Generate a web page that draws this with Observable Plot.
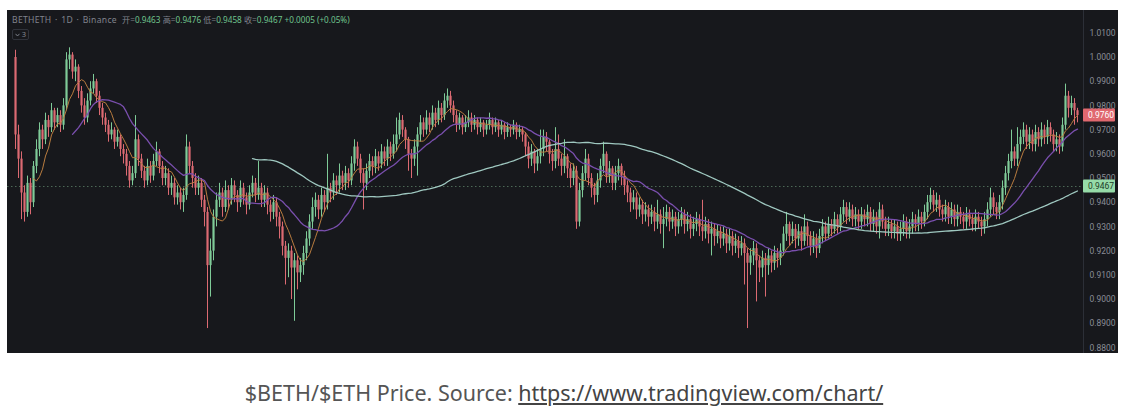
<!DOCTYPE html>
<html><head><meta charset="utf-8">
<script src="https://cdn.jsdelivr.net/npm/d3@7"></script>
<script src="https://cdn.jsdelivr.net/npm/@observablehq/plot@0.6"></script>
<style>
body{margin:0;background:#fff;width:1128px;height:414px;position:relative;overflow:hidden;font-family:"Noto Sans",sans-serif}
#panel{position:absolute;left:7px;top:10px;width:1111px;height:343px;background:#17181c;overflow:hidden}
#panel svg{position:absolute;left:0;top:0}
#hdr{position:absolute;left:5px;top:4px;font-size:8.2px;line-height:12px;color:#80838c;white-space:nowrap;font-family:"Noto Sans","Noto Sans CJK SC",sans-serif;z-index:2}
#hdr .v{color:#6fc38c}
#hdr .sym{font-size:8.6px;letter-spacing:0.3px;word-spacing:1px}
#hdr .s{margin-left:5px}
#ind{position:absolute;left:5px;top:19px;width:17px;height:11px;border:1px solid #30333b;border-radius:2px;font-size:7.5px;line-height:11px;color:#868993;z-index:2;box-sizing:border-box;display:flex;align-items:center;justify-content:center;gap:2px}
#cap{position:absolute;top:379px;left:0;width:1128px;text-align:center;font-size:21.5px;line-height:28px;color:#555}
#cap a{color:#444;text-decoration:underline}
</style></head>
<body>
<div id="panel">
  <div id="hdr"><span class="sym">BETHETH · 1D · Binance</span><span class="s">开=<span class="v">0.9463</span></span> <span>高=<span class="v">0.9476</span></span> <span>低=<span class="v">0.9458</span></span> <span>收=<span class="v">0.9467</span></span> <span class="v">+0.0005 (+0.05%)</span></div>
  <div id="ind"><svg width="5" height="4" viewBox="0 0 5 4" style="position:static"><path d="M0.5 0.8 L2.5 3 L4.5 0.8" fill="none" stroke="#868993" stroke-width="0.9"/></svg><span>3</span></div>
</div>
<div id="cap">$BETH/$ETH Price. Source: <a>https://www.tradingview.com/chart/</a></div>
<script>
// ---- data (daily candles) ----
const firstOpen = 1.000;
const close = [
.968,.958,.944,.936,.948,.940,.955,.962,.970,.966,
.974,.971,.978,.973,.976,.972,.980,.999,1.001,.994,
.996,.986,.980,.975,.982,.987,.990,.984,.979,.975,
.972,.968,.970,.965,.967,.962,.960,.955,.949,.952,
.966,.958,.953,.949,.955,.951,.957,.961,.955,.950,
.952,.946,.948,.942,.944,.940,.943,.963,.955,.950,
.946,.948,.941,.936,.914,.920,.934,.941,.944,.938,
.945,.941,.947,.943,.940,.946,.942,.939,.944,.948,
.943,.946,.941,.944,.939,.936,.940,.934,.930,.922,
.917,.920,.913,.916,.911,.914,.919,.925,.932,.938,
.941,.937,.943,.940,.946,.944,.949,.947,.951,.948,
.952,.949,.956,.963,.958,.952,.948,.953,.957,.955,
.959,.956,.961,.958,.963,.960,.964,.968,.974,.970,
.966,.960,.958,.963,.968,.973,.970,.975,.972,.977,
.974,.979,.976,.982,.984,.980,.976,.972,.975,.971,
.973,.975,.972,.974,.971,.973,.970,.972,.974,.971,
.973,.970,.972,.969,.971,.970,.972,.969,.970,.968,
.963,.958,.961,.956,.959,.962,.967,.965,.960,.957,
.962,.958,.955,.959,.954,.950,.953,.932,.945,.952,
.958,.950,.946,.943,.949,.955,.960,.951,.954,.948,
.952,.955,.951,.947,.944,.940,.942,.937,.939,.935,
.937,.934,.936,.932,.935,.931,.933,.936,.932,.934,
.930,.933,.935,.931,.933,.929,.931,.933,.930,.928,
.931,.927,.929,.926,.928,.925,.927,.923,.926,.922,
.924,.921,.923,.919,.915,.918,.921,.916,.913,.917,
.914,.918,.915,.919,.917,.920,.927,.931,.926,.929,
.925,.928,.924,.930,.926,.922,.925,.921,.926,.930,
.927,.931,.929,.933,.930,.935,.938,.934,.937,.933,
.935,.932,.935,.933,.936,.931,.934,.930,.937,.932,
.929,.931,.928,.930,.927,.929,.932,.928,.930,.933,
.931,.934,.932,.936,.940,.943,.939,.941,.937,.935,
.938,.934,.937,.933,.936,.934,.932,.935,.933,.931,
.934,.932,.930,.933,.937,.942,.938,.936,.940,.946,
.952,.957,.961,.958,.964,.967,.970,.965,.968,.964,
.969,.966,.970,.967,.971,.968,.964,.966,.963,.972,
.984,.979,.981,.978,.976];
const high = [
1.003,.972,.961,.947,.951,.950,.957,.966,.973,.972,
.977,.976,.981,.979,.979,.978,.983,1.002,1.004,1.002,
.999,.997,.988,.983,.985,.990,.993,.991,.986,.981,
.977,.974,.973,.971,.970,.968,.964,.962,.957,.955,
.976,.968,.960,.955,.958,.957,.960,.965,.962,.957,
.955,.954,.951,.950,.947,.946,.946,.968,.965,.957,
.952,.951,.950,.943,.938,.925,.937,.944,.948,.946,
.949,.947,.950,.949,.945,.949,.948,.944,.947,.951,
.950,.957,.948,.947,.946,.941,.943,.942,.936,.932,
.924,.923,.922,.919,.918,.917,.922,.928,.935,.942,
.944,.943,.946,.945,.960,.948,.952,.951,.956,.953,
.955,.954,.959,.966,.965,.960,.954,.956,.960,.959,
.962,.961,.964,.963,.966,.965,.968,.975,.977,.976,
.971,.967,.962,.966,.971,.976,.975,.978,.977,.980,
.979,.982,.981,.985,.987,.986,.982,.978,.977,.976,
.976,.978,.977,.976,.975,.975,.974,.974,.977,.975,
.975,.974,.974,.973,.973,.972,.974,.973,.972,.971,
.969,.965,.964,.962,.962,.970,.970,.969,.966,.962,
.971,.968,.960,.966,.960,.956,.956,.955,.948,.955,
.962,.960,.952,.948,.952,.958,.965,.961,.957,.955,
.955,.958,.956,.953,.949,.946,.945,.944,.942,.941,
.940,.939,.939,.938,.941,.937,.938,.939,.938,.937,
.936,.936,.938,.937,.936,.935,.934,.936,.935,.941,
.934,.933,.932,.931,.931,.930,.930,.929,.929,.928,
.927,.926,.926,.925,.921,.921,.924,.923,.918,.920,
.919,.921,.920,.922,.921,.923,.930,.936,.932,.932,
.931,.931,.930,.935,.932,.928,.928,.927,.929,.933,
.932,.934,.933,.936,.935,.938,.941,.940,.940,.939,
.938,.937,.938,.937,.939,.938,.937,.936,.940,.939,
.934,.934,.933,.933,.932,.932,.935,.934,.933,.936,
.935,.937,.936,.939,.943,.946,.945,.944,.943,.939,
.941,.940,.940,.939,.939,.938,.936,.938,.937,.935,
.937,.936,.934,.936,.940,.946,.944,.940,.943,.949,
.955,.960,.970,.963,.971,.970,.973,.972,.971,.970,
.972,.971,.973,.972,.974,.973,.970,.969,.968,.975,
.989,.986,.984,.983,.979];
const low = [
.962,.950,.933,.932,.934,.935,.938,.952,.959,.962,
.964,.967,.969,.970,.971,.969,.970,.978,.995,.991,
.990,.983,.977,.972,.973,.980,.985,.981,.976,.972,
.969,.965,.966,.962,.963,.959,.956,.951,.946,.947,
.950,.955,.950,.946,.947,.948,.949,.955,.952,.947,
.947,.943,.943,.939,.939,.937,.936,.941,.952,.946,
.943,.943,.938,.930,.888,.901,.916,.930,.938,.934,
.936,.937,.939,.940,.936,.938,.939,.935,.937,.942,
.940,.941,.938,.938,.935,.932,.933,.930,.925,.918,
.906,.909,.900,.891,.904,.907,.910,.916,.922,.929,
.934,.933,.934,.936,.937,.940,.941,.943,.944,.945,
.945,.946,.947,.953,.955,.948,.937,.945,.950,.951,
.952,.953,.954,.955,.955,.957,.958,.961,.966,.967,
.962,.953,.950,.955,.951,.965,.967,.968,.969,.970,
.971,.972,.973,.974,.979,.977,.973,.969,.970,.968,
.969,.971,.969,.970,.968,.969,.967,.968,.970,.968,
.969,.967,.968,.966,.967,.967,.968,.966,.967,.965,
.959,.954,.955,.952,.953,.956,.959,.961,.956,.953,
.954,.955,.951,.952,.950,.946,.947,.929,.930,.942,
.949,.947,.942,.939,.940,.946,.952,.948,.948,.945,
.945,.949,.947,.943,.940,.936,.937,.933,.934,.931,
.932,.930,.931,.928,.929,.927,.921,.930,.928,.929,
.926,.927,.930,.927,.928,.925,.926,.928,.926,.924,
.925,.923,.918,.922,.923,.921,.922,.919,.920,.918,
.919,.917,.918,.906,.888,.910,.914,.899,.907,.909,
.901,.910,.911,.912,.913,.914,.918,.924,.922,.923,
.921,.922,.920,.922,.922,.918,.919,.917,.919,.923,
.924,.925,.926,.927,.927,.928,.932,.931,.932,.930,
.930,.929,.929,.930,.930,.928,.928,.927,.925,.929,
.926,.926,.925,.925,.924,.924,.926,.925,.925,.927,
.928,.928,.929,.930,.933,.937,.936,.936,.934,.932,
.932,.931,.931,.930,.930,.931,.929,.929,.930,.928,
.928,.929,.926,.927,.930,.934,.935,.933,.933,.937,
.943,.949,.954,.955,.955,.961,.964,.962,.962,.961,
.961,.963,.963,.964,.964,.965,.961,.961,.960,.961,
.970,.975,.976,.972,.973];
const yTicks = [0.88,0.89,0.90,0.91,0.92,0.93,0.94,0.95,0.96,0.97,0.98,0.99,1.00,1.01];
const crossPrice = 0.9467;   // crosshair price (green tag)
const lastPrice = 0.9760;    // last price (red tag)
const maPeriods = [7, 20, 80];
const maColors = ["#b97c3f", "#7a4fae", "#9fc8c0"];

// ---- layout ----
const W = 1111, H = 343, MR = 35;
const xDomain = [-2.67, 356];
const yDomain = [0.87769, 1.01942];
const GREEN = "#7fcb98", RED = "#dc6a72";

const data = close.map((c, i) => {
  const o = i === 0 ? firstOpen : close[i - 1];
  return {i, open: o, close: c, high: Math.max(high[i], o, c), low: Math.min(low[i], o, c)};
});
const col = d => d.close >= d.open ? GREEN : RED;

const chart = Plot.plot({
  width: W, height: H,
  marginLeft: 0, marginRight: MR, marginTop: 0, marginBottom: 0,
  style: {background: "transparent", color: "#8a8d96", fontSize: "8.5px", fontFamily: "Roboto, 'Noto Sans', sans-serif"},
  color: {type: "identity"},
  x: {type: "linear", domain: xDomain, axis: null},
  y: {domain: yDomain, axis: "right", ticks: yTicks, tickFormat: d3.format(".4f"), tickSize: 0, tickPadding: 6, label: null},
  marks: [
    Plot.ruleY([crossPrice], {stroke: "#4d6a57", strokeDasharray: "1.5,2.5", strokeWidth: 1}),
    Plot.ruleX(data, {x: "i", y1: "low", y2: "high", stroke: col, strokeWidth: 1}),
    Plot.ruleX(data, {x: "i", y1: "open", y2: "close", stroke: col, strokeWidth: 2.2}),
    ...maPeriods.map((k, j) => Plot.lineY(data, Plot.windowY({k, anchor: "end", strict: true}, {x: "i", y: "close", stroke: maColors[j], strokeWidth: j === 0 ? 1 : 1.3}))),
    Plot.ruleX([xDomain[1]], {stroke: "#2c2f37", strokeWidth: 1})
  ]
});
document.getElementById("panel").appendChild(chart);

// price tags on the axis
const ys = chart.scale("y");
const svg = d3.select(chart);
function tag(v, fill, textColor) {
  const y = ys.apply(v);
  const g = svg.append("g").attr("text-anchor", "start");
  g.append("rect").attr("x", W - MR).attr("y", y - 6.5).attr("width", 32).attr("height", 13).attr("fill", fill).attr("rx", 1);
  g.append("text").attr("x", W - MR + 5).attr("y", y).attr("dy", "0.35em")
    .attr("fill", textColor).attr("font-size", "8.5px").attr("font-family", "Roboto, 'Noto Sans', sans-serif")
    .text(d3.format(".4f")(v));
}
tag(lastPrice, "#e0686f", "#ffffff");
tag(crossPrice, "#96dba8", "#1d3b27");
</script>
</body></html>
